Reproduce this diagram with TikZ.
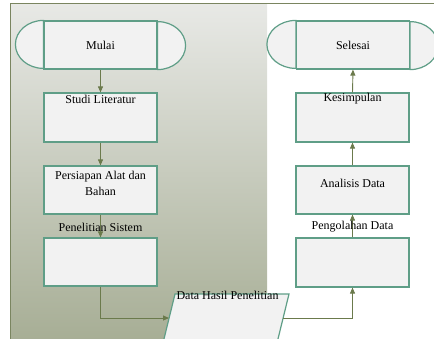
\documentclass[tikz,border=0pt]{standalone}
\usepackage{fontspec}
\setmainfont{Liberation Serif}
\usetikzlibrary{arrows.meta}
\definecolor{boxline}{HTML}{5F9E87}
\definecolor{arrowc}{HTML}{6B7A4C}
\definecolor{framec}{HTML}{7A8560}
\definecolor{boxfill}{HTML}{F2F2F2}
\definecolor{gradtop}{HTML}{E8E9E6}
\definecolor{gradbot}{HTML}{A6AD94}
\tikzset{
  stepbox/.style={draw=boxline, fill=boxfill, line width=1.2pt, minimum width=113pt, minimum height=48pt, inner sep=0pt},
  termbox/.style={draw=boxline, fill=boxfill, line width=1.2pt, minimum width=113pt, minimum height=48pt, inner sep=0pt},
  capline/.style={draw=boxline, fill=boxfill, line width=1.2pt},
  lbl/.style={font=\fontsize{12}{16}\selectfont, inner sep=0pt, align=center, text=black},
  conn/.style={draw=arrowc, line width=0.9pt, -{Triangle[length=6pt,width=5pt]}},
}
\begin{document}
\begin{tikzpicture}[x=1pt,y=-1pt]
\clip (0,0) rectangle (434,338);
% background frame
\shade[top color=gradtop, bottom color=gradbot] (10,3) rectangle (267,345);
\draw[framec, line width=1.3pt] (10.5,345) -- (10.5,3.5) -- (440,3.5);

% terminators
\node[termbox] (mulai) at (100.5,45) {};
\path[capline] (mulai.north west) arc[start angle=90, end angle=270, x radius=28pt, y radius=24pt] -- cycle;
\path[capline] (mulai.south east) arc[start angle=-90, end angle=90, x radius=28pt, y radius=24pt] -- cycle;
\node[lbl] (tmulai) at (mulai.center) {Mulai};

\node[termbox] (selesai) at (353,45) {};
\path[capline] (selesai.north west) arc[start angle=90, end angle=270, x radius=29pt, y radius=24pt] -- cycle;
\path[capline] (selesai.south east) arc[start angle=-90, end angle=90, x radius=28pt, y radius=24pt] -- cycle;
\node[lbl] (tselesai) at (selesai.center) {Selesai};

% left column
\node[stepbox, minimum height=49pt] (studi) at (100.5,117.5) {};
\node[stepbox] (persiapan) at (100.5,190) {};
\node[stepbox] (penelitian) at (100.5,262) {};

% right column
\node[stepbox, minimum height=49pt] (kesimpulan) at (352.5,117.5) {};
\node[stepbox] (analisis) at (352.5,190) {};
\node[stepbox, minimum height=49pt] (pengolahan) at (352.5,262.5) {};

% data parallelogram
\coordinate (dtl) at (175,294);
\coordinate (dtr) at (289,294);
\coordinate (dbr) at (277,343);
\coordinate (dbl) at (163,343);
\path[capline] (dtl) -- (dtr) -- (dbr) -- (dbl) -- cycle;
\coordinate (din) at (169,318);
\coordinate (dout) at (283,318);

% connectors
\draw[conn] (mulai.south) -- (studi.north);
\draw[conn] (studi.south) -- (persiapan.north);
\draw[conn] (persiapan.south) -- (penelitian.north);
\draw[conn] (penelitian.south) |- (din);
\draw[conn] (dout) -| (pengolahan.south);
\draw[conn] (pengolahan.north) -- (analisis.south);
\draw[conn] (analisis.north) -- (kesimpulan.south);
\draw[conn] (kesimpulan.north) -- (selesai.south);

% labels
\node[lbl] (tstudi) at (100.5,99) {Studi Literatur};
\node[lbl] (tpersiapan) at (100.5,183) {Persiapan Alat dan\\Bahan};
\node[lbl] (tpenelitian) at (100.5,227) {Penelitian Sistem};
\node[lbl] (tkesimpulan) at (352.5,99) {Kesimpulan};
\node[lbl] (tanalisis) at (352.5,183) {Analisis Data};
\node[lbl] (tpengolahan) at (352.5,227) {Pengolahan Data};
\node[lbl] (tdata) at (227.5,295) {Data Hasil Penelitian};
\end{tikzpicture}
\end{document}
